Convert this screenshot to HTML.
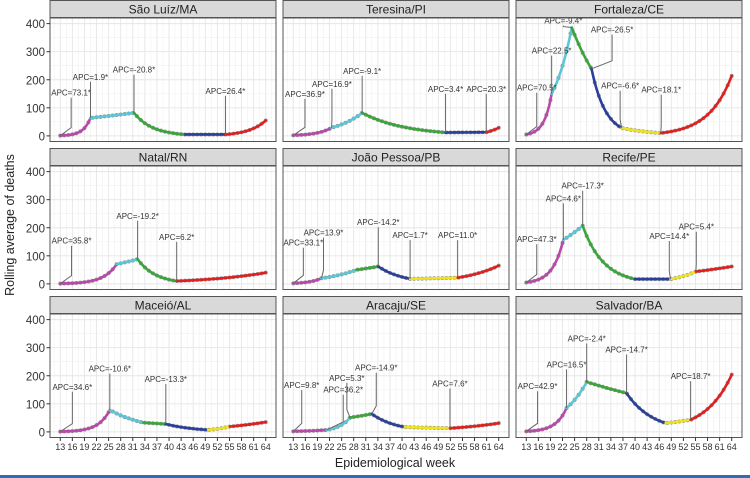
<!DOCTYPE html>
<html><head><meta charset="utf-8">
<style>
html,body{margin:0;padding:0;background:#fff;}
svg{display:block;font-family:"Liberation Sans",sans-serif;}
</style></head>
<body>
<svg id="chart" width="750" height="478" viewBox="0 0 750 478">
<text x="14" y="225" transform="rotate(-90 14 225)" text-anchor="middle" font-size="12.5" fill="#222">Rolling average of deaths</text>
<text x="395" y="467" text-anchor="middle" font-size="12.5" fill="#222">Epidemiological week</text>
<rect x="0" y="475" width="750" height="3" fill="#2f6db5"/>
</svg>
<script>
const cityNames = ["São Luíz/MA","Teresina/PI","Fortaleza/CE","Natal/RN","João Pessoa/PB","Recife/PE","Maceió/AL","Aracaju/SE","Salvador/BA"];
const nodeWeeks = [
 [13,20.5,31.3,44,54,64],
 [13,22.5,30.1,50.8,60.9,64],
 [13,19.3,24.3,29.2,36.7,46.4,64],
 [13,27,32.2,41.9,64],
 [13,20,28.7,34.1,42,53.8,64],
 [13,22.2,27,40,48.8,55.1,64],
 [13,25.3,33.6,39.2,49.7,55.1,64],
 [13,21.3,27.1,32.5,40.7,51.9,64],
 [13,23,28,37.9,47.6,53.8,64]
];
const nodeValues = [
 [1,64,82,5,5,55],
 [2,29,82,12,13,29],
 [5,150,386,239,28,10,214],
 [1,70,88,10,40],
 [2,20,50,62,18,22,65],
 [5,157,207,17,17,44,62],
 [1,78,33,28,7,19,35],
 [2,7,51,64,17,13,31],
 [2,85,178,138,31,43,204]
];
const segColors = [
 ["m","c","g","b","r"],
 ["m","c","g","b","r"],
 ["m","c","g","b","y","r"],
 ["m","c","g","r"],
 ["m","c","g","b","y","r"],
 ["m","c","g","b","y","r"],
 ["m","c","g","b","y","r"],
 ["m","c","g","b","y","r"],
 ["m","c","g","b","y","r"]
];
const labelTexts = [
 ["APC=73.1*","APC=1.9*","APC=-20.8*","APC=26.4*"],
 ["APC=36.9*","APC=16.9*","APC=-9.1*","APC=3.4*","APC=20.3*"],
 ["APC=70.5*","APC=22.5*","APC=-9.4*","APC=-26.5*","APC=-6.6*","APC=18.1*"],
 ["APC=35.8*","APC=-19.2*","APC=6.2*"],
 ["APC=33.1*","APC=13.9*","APC=-14.2*","APC=1.7*","APC=11.0*"],
 ["APC=47.3*","APC=4.6*","APC=-17.3*","APC=14.4*","APC=5.4*"],
 ["APC=34.6*","APC=-10.6*","APC=-13.3*"],
 ["APC=9.8*","APC=36.2*","APC=5.3*","APC=-14.9*","APC=7.6*"],
 ["APC=42.9*","APC=16.5*","APC=-2.4*","APC=-14.7*","APC=18.7*"]
];
const labelNode = [[0,1,2,4],[0,1,2,3,4],[0,1,2,3,4,5],[0,2,3],[0,1,3,4,5],[0,1,2,4,5],[0,1,3],[0,1,2,3,5],[0,1,2,3,5]];
const labelWeek = [[15.7,20.5,31.3,54],[15.9,22.6,30.1,50.8,60.9],[15.6,19.3,22.2,34.3,36.3,46.5],[15.8,32.2,41.9],[15.5,20.5,34.1,42,53.8],[15.6,22.2,27,48.5,55.2],[16,25.3,39.2],[15.1,25.4,26.3,33.6,51.9],[15.8,23,28,37.9,53.8]];
const labelValue = [[143,200,225,150],[139,175,221,157,157],[161,293,400,368,168,154],[143,232,157],[136,172,209,163,163],[149,294,339,160,193],[150,215,178],[156,140,182,218,162],[152,230,322,283,188]];
const xTicks = [13,16,19,22,25,28,31,34,37,40,43,46,49,52,55,58,61,64];
const yTicks = [0,100,200,300,400];

const colorMap = {m:"#b74aa8",c:"#5cc6d6",g:"#3aa53a",b:"#2a3f9a",y:"#efe21e",r:"#de2020"};
const NS = "http://www.w3.org/2000/svg";
const svg = document.getElementById("chart");
const colX = [50,283,516], rowY = [0,148,296], PW = 226, SH = 18, PH = 123.5;
function mk(tag, attrs, parent){const e=document.createElementNS(NS,tag);for(const k in attrs)e.setAttribute(k,attrs[k]);(parent||svg).appendChild(e);return e;}

cityNames.forEach((name, ci) => {
  const col = ci % 3, row = Math.floor(ci / 3);
  const x0 = colX[col], top = rowY[row] + SH;
  const sx = w => x0 + (w - 10.45) * PW / 56.1;
  const sy = v => top + (420 - v) * PH / 440;
  const g = mk("g", {});
  
  
  const strip = mk("rect", {x:x0, y:rowY[row]+0.5, width:PW, height:SH-1, fill:"#d9d9d9", stroke:"#555", "stroke-width":1}, g);
  
  
  const st = mk("text", {x:x0+PW/2, y:rowY[row]+13.5, "text-anchor":"middle", "font-size":12, fill:"#222"}, g);
  st.textContent = name;
  
  
  mk("rect", {x:x0, y:top, width:PW, height:PH, fill:"#fff"}, g);
  for (let i = 0; i < xTicks.length; i++) {
    const w = xTicks[i];
    mk("line", {x1:sx(w), x2:sx(w), y1:top, y2:top+PH, stroke:"#e6e6e6", "stroke-width":0.9}, g);
    if (i < xTicks.length - 1) mk("line", {x1:sx(w+1.5), x2:sx(w+1.5), y1:top, y2:top+PH, stroke:"#f1f1f1", "stroke-width":0.6}, g);
  }
  mk("line", {x1:sx(11.5), x2:sx(11.5), y1:top, y2:top+PH, stroke:"#f1f1f1", "stroke-width":0.6}, g);
  mk("line", {x1:sx(65.5), x2:sx(65.5), y1:top, y2:top+PH, stroke:"#f1f1f1", "stroke-width":0.6}, g);
  yTicks.forEach(v => {
    mk("line", {x1:x0, x2:x0+PW, y1:sy(v), y2:sy(v), stroke:"#e6e6e6", "stroke-width":0.9}, g);
    if (v < 400) mk("line", {x1:x0, x2:x0+PW, y1:sy(v+50), y2:sy(v+50), stroke:"#f1f1f1", "stroke-width":0.6}, g);
  });
  const W = nodeWeeks[ci], V = nodeValues[ci];
  const fit = w => { let k = 0; while (k < W.length - 2 && w > W[k+1]) k++;
    const t = (w - W[k]) / (W[k+1] - W[k]); const a = Math.max(V[k],1), b = Math.max(V[k+1],1);
    return a * Math.pow(b / a, t); };
  for (let w = 13; w <= 64; w++) {
    const d = mk("circle", {cx:sx(w), cy:sy(fit(w)), r:2, fill:"#777", "fill-opacity":0.8}, g);
    
    
  }
  for (let k = 0; k < W.length - 1; k++) {
    let pts = [];
    const a = Math.max(V[k],1), b = Math.max(V[k+1],1);
    for (let s = 0; s <= 20; s++) { const t = s / 20; const w = W[k] + t * (W[k+1] - W[k]);
      pts.push(sx(w).toFixed(2) + "," + sy(a * Math.pow(b / a, t)).toFixed(2)); }
    const pl = mk("polyline", {points:pts.join(" "), fill:"none", stroke:colorMap[segColors[ci][k]], "stroke-width":2.6, "stroke-linecap":"round"}, g);
    
    
  }
  labelTexts[ci].forEach((txt, li) => {
    const n = labelNode[ci][li];
    const px = sx(W[n]), py = sy(V[n]);
    const tx = sx(labelWeek[ci][li]), ty = sy(labelValue[ci][li]);
    const midY = Math.max(ty + 3, py - 8);
    const ln = mk("polyline", {points:`${tx},${ty+2} ${tx},${midY} ${px},${py}`, fill:"none", stroke:"#666", "stroke-width":1}, g);
    
    
    const lt = mk("text", {x:tx, y:ty, "text-anchor":"middle", "font-size":8, fill:"#333"}, g);
    lt.textContent = txt;
    
    
  });
  const border = mk("rect", {x:x0, y:top, width:PW, height:PH, fill:"none", stroke:"#555", "stroke-width":1}, g);
  
  
  if (col === 0) {
    yTicks.forEach(v => {
      mk("line", {x1:x0-3.5, x2:x0, y1:sy(v), y2:sy(v), stroke:"#333", "stroke-width":1}, g);
      const t = mk("text", {x:x0-5, y:sy(v)+4.5, "text-anchor":"end", "font-size":11.5, fill:"#333"}, g);
      t.textContent = v;
      
      
    });
  }
  if (row === 2) {
    xTicks.forEach(w => {
      mk("line", {x1:sx(w), x2:sx(w), y1:top+PH, y2:top+PH+3.5, stroke:"#333", "stroke-width":1}, g);
      const t = mk("text", {x:sx(w), y:top+PH+12.5, "text-anchor":"middle", "font-size":9, fill:"#333"}, g);
      t.textContent = w;
      
      
    });
  }
});
</script>
</body></html>
